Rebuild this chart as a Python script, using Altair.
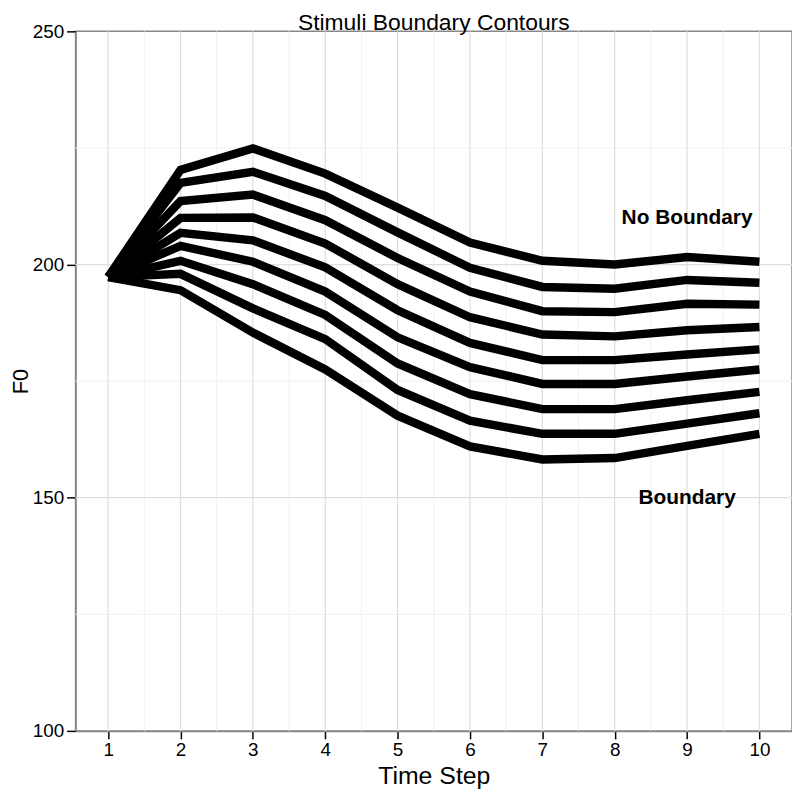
import altair as alt
import pandas as pd

time_steps = [1, 2, 3, 4, 5, 6, 7, 8, 9, 10]
contour_1 = [197.3, 220.3, 224.9, 219.5, 212.2, 204.7, 200.8, 200.0, 201.6, 200.6]
contour_2 = [197.3, 217.5, 219.9, 214.7, 206.9, 199.3, 195.2, 194.8, 196.7, 196.1]
contour_3 = [197.3, 213.6, 215.0, 209.5, 201.4, 194.2, 190.0, 189.8, 191.6, 191.4]
contour_4 = [197.3, 210.0, 210.1, 204.5, 195.8, 188.7, 185.0, 184.6, 185.9, 186.6]
contour_5 = [197.3, 206.8, 205.2, 199.4, 190.2, 183.2, 179.5, 179.5, 180.7, 181.8]
contour_6 = [197.3, 204.0, 200.6, 194.2, 184.4, 178.0, 174.4, 174.4, 176.0, 177.5]
contour_7 = [197.3, 200.8, 195.8, 189.2, 178.8, 172.2, 169.0, 169.0, 170.9, 172.7]
contour_8 = [197.3, 198.0, 190.6, 184.0, 173.1, 166.5, 163.7, 163.7, 165.9, 168.1]
contour_9 = [197.3, 194.5, 185.4, 177.5, 167.6, 161.0, 158.2, 158.5, 161.1, 163.7]
contours = [contour_1, contour_2, contour_3, contour_4, contour_5,
            contour_6, contour_7, contour_8, contour_9]

x_ticks = [1, 2, 3, 4, 5, 6, 7, 8, 9, 10]
y_ticks = [100, 150, 200, 250]
x_major_grid = [1, 2, 3, 4, 5, 6, 7, 8, 9, 10]
x_minor_grid = [1.5, 2.5, 3.5, 4.5, 5.5, 6.5, 7.5, 8.5, 9.5]
y_major_grid = [150, 200]
y_minor_grid = [125, 175, 225]

label_text = ["No Boundary", "Boundary"]
label_x = [9, 9]
label_y = [210, 150]

chart_title = "Stimuli Boundary Contours"

FONT = "Liberation Sans"
BORDER = "#888888"
W, H = 721, 704

rows = []
for i, vals in enumerate(contours):
    for t, v in zip(time_steps, vals):
        rows.append({"contour": i + 1, "t": t, "f0": v})
lines_df = pd.DataFrame(rows)
labels_df = pd.DataFrame({"label": label_text, "t": label_x, "f0": label_y})

xscale = alt.Scale(domain=[0.55, 10.45], nice=False, zero=False)
yscale = alt.Scale(domain=[100, 250], nice=False, zero=False)

xaxis = alt.Axis(values=x_ticks, format="d", grid=False, title="Time Step",
                 labelFont=FONT, labelFontSize=19, labelColor="black", labelPadding=2,
                 tickSize=8, tickColor="black", tickWidth=1.5,
                 domainColor=BORDER, domainWidth=1.5,
                 titleFont=FONT, titleFontSize=25, titleFontWeight="normal",
                 titleColor="black", titleY=53, titleX=W / 2, titleBaseline="alphabetic")
yaxis = alt.Axis(values=y_ticks, format="d", grid=False, title="F0",
                 labelFont=FONT, labelFontSize=19, labelColor="black", labelPadding=3,
                 tickSize=9, tickColor="black", tickWidth=1.5,
                 domainColor=BORDER, domainWidth=1.5,
                 titleFont=FONT, titleFontSize=22, titleFontWeight="normal",
                 titleColor="black", titleX=-48, titleY=H / 2, titleAngle=270,
                 titleAlign="center", titleBaseline="alphabetic")


def X(field):
    return alt.X(field, type="quantitative", scale=xscale, axis=xaxis)


def Y(field):
    return alt.Y(field, type="quantitative", scale=yscale, axis=yaxis)


xminor = alt.Chart(pd.DataFrame({"t": x_minor_grid})).mark_rule(
    color="#f0f0f0", strokeWidth=1).encode(x=X("t"))
yminor = alt.Chart(pd.DataFrame({"f0": y_minor_grid})).mark_rule(
    color="#f0f0f0", strokeWidth=1).encode(y=Y("f0"))
xmajor = alt.Chart(pd.DataFrame({"t": x_major_grid})).mark_rule(
    color="#dedede", strokeWidth=1.2).encode(x=X("t"))
ymajor = alt.Chart(pd.DataFrame({"f0": y_major_grid})).mark_rule(
    color="#dedede", strokeWidth=1.2).encode(y=Y("f0"))

lines = alt.Chart(lines_df).mark_line(
    color="black", strokeWidth=8.5, strokeJoin="miter", strokeCap="butt"
).encode(x=X("t"), y=Y("f0"), detail="contour:N", order="t:Q")

labels = alt.Chart(labels_df).mark_text(
    font=FONT, fontWeight="bold", fontSize=21, color="black",
    align="center", baseline="middle"
).encode(x=X("t"), y=Y("f0"), text="label:N")

title_mark = alt.Chart(pd.DataFrame({"title": [chart_title]})).mark_text(
    font=FONT, fontSize=23, color="black", align="center", baseline="alphabetic"
).encode(x=alt.value(W / 2), y=alt.value(-1.5), text="title:N")

chart = alt.layer(xminor, yminor, xmajor, ymajor, lines, labels, title_mark).properties(
    width=W, height=H,
    background="white",
    autosize=alt.AutoSizeParams(type="none"),
    padding={"left": 68, "top": 21, "right": 0, "bottom": 59},
).configure_view(stroke=BORDER, strokeWidth=1.5)

chart.save("out.html", embed_options={"renderer": "svg", "actions": False})
